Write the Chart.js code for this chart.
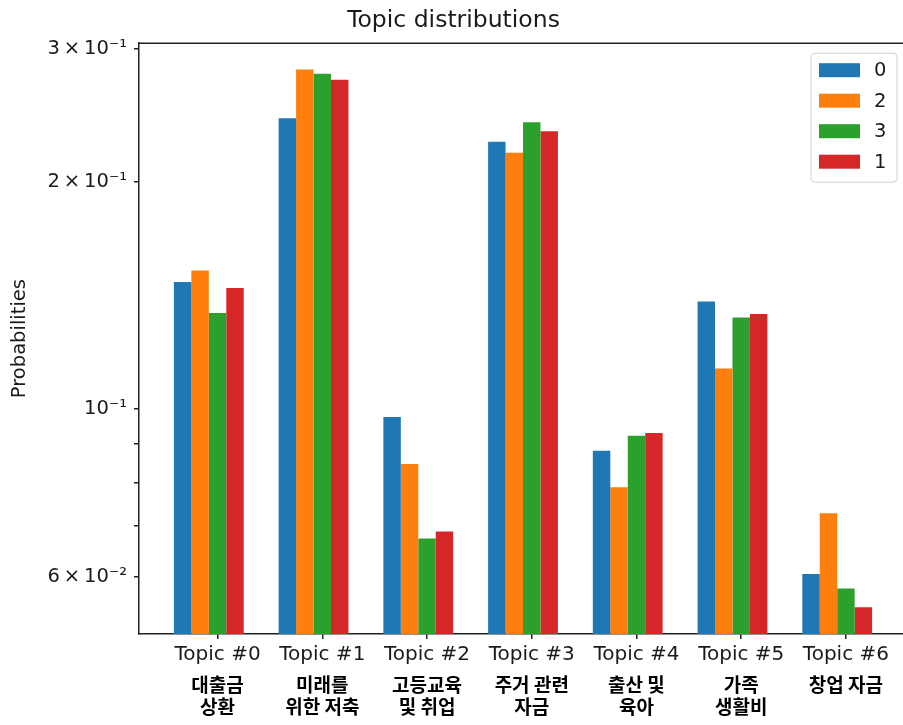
<!DOCTYPE html>
<html>
<head>
<meta charset="utf-8">
<script src="https://cdn.jsdelivr.net/npm/chart.js@4.4.1/dist/chart.umd.min.js"></script>
<style>
  html, body { margin: 0; padding: 0; background: #fff; overflow: hidden; }
  #wrap { width: 903px; height: 725px; overflow: hidden; }
</style>
</head>
<body>
<div id="wrap"><canvas id="topicChart" width="920" height="725"></canvas></div>
<script>
// ---- data ----
const topicIndex = [0, 1, 2, 3, 4, 5, 6];
const topicNames = ['Topic #0', 'Topic #1', 'Topic #2', 'Topic #3', 'Topic #4', 'Topic #5', 'Topic #6'];
const topicKorean = [
  ['대출금', '상환'],
  ['미래를', '위한 저축'],
  ['고등교육', '및 취업'],
  ['주거 관련', '자금'],
  ['출산 및', '육아'],
  ['가족', '생활비'],
  ['창업 자금']
];

const seriesLabels = ['0', '2', '3', '1'];
const seriesColors = ['#1f77b4', '#ff7f0e', '#2ca02c', '#d62728'];
const probs0 = [0.1473, 0.2426, 0.0976, 0.2259, 0.0881, 0.1388, 0.0605];
const probs2 = [0.1526, 0.2815, 0.0846, 0.2183, 0.0788, 0.1132, 0.0728];
const probs3 = [0.1340, 0.2778, 0.0674, 0.2397, 0.0922, 0.1322, 0.0579];
const probs1 = [0.1446, 0.2728, 0.0689, 0.2332, 0.0930, 0.1336, 0.0547];
const seriesValues = [probs0, probs2, probs3, probs1];

const yTickValues = [0.06, 0.07, 0.08, 0.09, 0.1, 0.2, 0.3];
const yTickLabels = ['6\u2009×\u200910⁻²', '', '', '', '10⁻¹', '2\u2009×\u200910⁻¹', '3\u2009×\u200910⁻¹'];
const yMin = 0.0504, yMax = 0.3049;
const xMin = -0.75, xMax = 6.583;

const textColor = '#1a1a1a';
const spineColor = '#222';

// ---- datasets ----
const datasets = seriesLabels.map((lab, k) => ({
  label: lab,
  data: topicIndex.map((x, i) => ({ x: x, y: seriesValues[k][i] })),
  backgroundColor: seriesColors[k],
  borderWidth: 0
}));
// empty slot so that the group sits like matplotlib's offset bars (ticks on the 3rd bar)
datasets.push({ label: '', data: topicIndex.map(x => ({ x: x, y: null })), backgroundColor: 'rgba(0,0,0,0)' });

// top spine + matplotlib style legend inside the axes
const frameAndLegend = {
  id: 'frameAndLegend',
  afterDraw(chart) {
    const { ctx, chartArea } = chart;
    ctx.save();
    ctx.strokeStyle = spineColor;
    ctx.lineWidth = 1.5;
    ctx.beginPath();
    ctx.moveTo(chartArea.left, chartArea.top);
    ctx.lineTo(chartArea.right, chartArea.top);
    ctx.lineTo(chartArea.right, chartArea.bottom);
    ctx.stroke();

    const boxW = 86, boxH = 129;
    const bx = chartArea.right - 10 - boxW;
    const by = chartArea.top + 10;
    ctx.beginPath();
    ctx.roundRect(bx, by, boxW, boxH, 4);
    ctx.fillStyle = 'rgba(255,255,255,0.8)';
    ctx.fill();
    ctx.strokeStyle = '#d0d0d0';
    ctx.lineWidth = 1;
    ctx.stroke();

    ctx.font = '19.5px "DejaVu Sans"';
    ctx.textBaseline = 'middle';
    ctx.textAlign = 'left';
    chart.data.datasets.filter(d => d.label !== '').forEach((d, i) => {
      const cy = by + 17 + i * 30.5;
      ctx.fillStyle = d.backgroundColor;
      ctx.fillRect(bx + 8, cy - 7, 41, 14);
      ctx.fillStyle = textColor;
      ctx.fillText(d.label, bx + 63, cy + 1);
    });
    ctx.restore();
  }
};

Chart.defaults.font.family = '"DejaVu Sans"';
Chart.defaults.color = textColor;

new Chart(document.getElementById('topicChart'), {
  type: 'bar',
  data: { datasets: datasets },
  options: {
    responsive: false,
    animation: false,
    layout: { padding: { left: 0, right: 13, top: 0, bottom: 0 } },
    datasets: { bar: { categoryPercentage: 5 / 6, barPercentage: 1 } },
    plugins: {
      legend: { display: false },
      tooltip: { enabled: false },
      title: {
        display: true,
        text: 'Topic distributions',
        color: textColor,
        font: { size: 23.5, weight: 'normal', lineHeight: 1.2 },
        padding: { top: 7, bottom: 8 }
      }
    },
    scales: {
      x: {
        type: 'linear',
        position: 'bottom',
        weight: 0,
        offset: false,
        min: xMin,
        max: xMax,
        afterBuildTicks: (scale) => { scale.ticks = topicIndex.map(v => ({ value: v })); },
        afterFit: (scale) => { scale.height = 30; },
        grid: { offset: false, drawOnChartArea: false, drawTicks: true, tickLength: 5, color: spineColor, lineWidth: 1.5 },
        border: { display: true, color: spineColor, width: 1.5 },
        ticks: {
          autoSkip: false,
          maxRotation: 0,
          padding: 4,
          color: textColor,
          font: { size: 20 },
          callback: (v) => topicNames[topicIndex.indexOf(v)]
        }
      },
      xk: {
        type: 'linear',
        position: 'bottom',
        weight: 1,
        offset: false,
        min: xMin,
        max: xMax,
        afterBuildTicks: (scale) => { scale.ticks = topicIndex.map(v => ({ value: v })); },
        afterFit: (scale) => { scale.height = 61; },
        grid: { display: false, offset: false },
        border: { display: false },
        ticks: {
          autoSkip: false,
          maxRotation: 0,
          padding: 2,
          color: '#000',
          font: { family: '"Noto Sans CJK KR"', size: 19, weight: 'bold', lineHeight: '22px' },
          callback: (v) => topicKorean[topicIndex.indexOf(v)]
        }
      },
      y: {
        type: 'logarithmic',
        min: yMin,
        max: yMax,
        afterBuildTicks: (scale) => { scale.ticks = yTickValues.map(v => ({ value: v })); },
        afterFit: (scale) => { scale.width = 139; },
        grid: { drawOnChartArea: false, drawTicks: true, tickLength: 5, color: spineColor, lineWidth: 1.5 },
        border: { display: true, color: spineColor, width: 1.5 },
        ticks: {
          autoSkip: false,
          padding: 7,
          color: textColor,
          font: { size: 19.5 },
          callback: (v) => yTickLabels[yTickValues.indexOf(v)]
        },
        title: {
          display: true,
          text: 'Probabilities',
          color: textColor,
          font: { size: 19.5, lineHeight: 1.2 },
          padding: { top: 8, bottom: 0 }
        }
      }
    }
  },
  plugins: [frameAndLegend]
});
</script>
</body>
</html>
